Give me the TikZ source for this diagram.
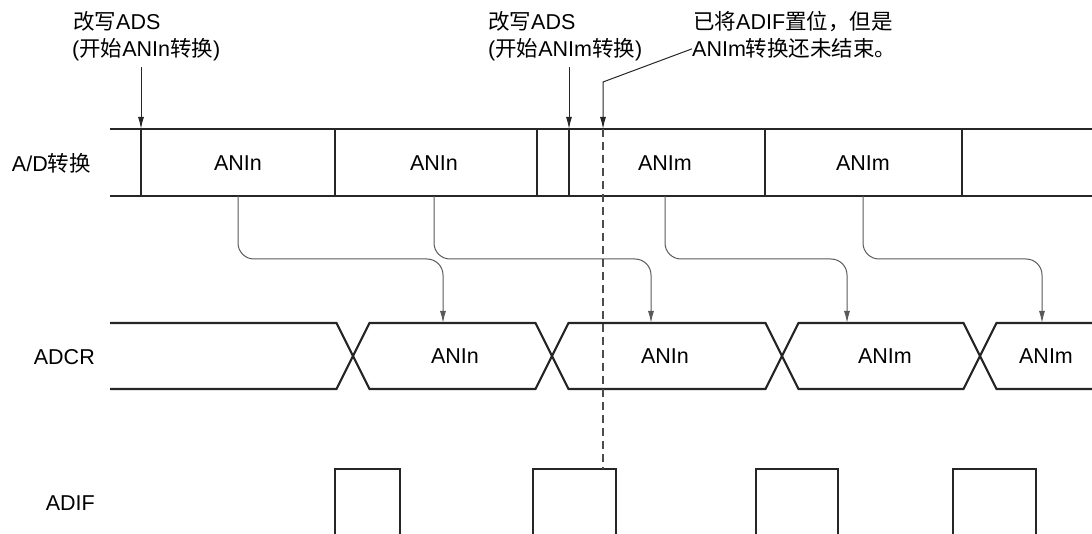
\documentclass[tikz,border=0pt]{standalone}
\usepackage{fontspec}
\setmainfont{Liberation Sans}
\newfontfamily\cjk{Noto Sans CJK SC}
\usetikzlibrary{arrows.meta}

\begin{document}
\begin{tikzpicture}[x=1pt, y=-1pt,
  font=\fontsize{21.5}{27}\selectfont,
  txt/.style={inner sep=0pt},
  lbl/.style={inner sep=0pt, anchor=base west},
  wave/.style={draw=black!85, line width=2.2pt},
  divider/.style={draw=black!85, line width=1.2pt},
  ptr/.style={draw=black!85, line width=1pt, -{Latex[length=12pt,width=6pt]}},
  conn/.style={draw=black!65, line width=1pt, rounded corners=16pt, -{Latex[length=12pt,width=6pt]}},
  dashline/.style={draw=black!70, line width=1.2pt, dash pattern=on 8pt off 5pt}
]
\useasboundingbox (0,0) rectangle (1092,534);

\coordinate (adtop) at (0,129);
\coordinate (adbot) at (0,196);
\coordinate (bend) at (0,259);
\coordinate (iftop) at (0,469);

% A/D row
\draw[wave] (110,129) -- (1092,129);
\draw[wave] (110,196) -- (1092,196);
\foreach \x in {141,335,537,569,765,962}
  \draw[divider] (\x,129) -- (\x,196);
\node[txt, anchor=east] (adlbl) at (91,163) {A/D{\cjk 转换}};
\node[txt] (adA) at (238,163) {ANIn};
\node[txt] (adB) at (434,163) {ANIn};
\node[txt] (adC) at (665,163) {ANIm};
\node[txt] (adD) at (863,163) {ANIm};

% ADCR row
\draw[wave] (110,323) -- (336.5,323) -- (353,356) -- (336.5,389) -- (110,389);
\foreach \a/\b in {353/552, 552/782, 782/980}
  \draw[wave] (\a,356) -- (\a+16.5,323) -- (\b-16.5,323) -- (\b,356) -- (\b-16.5,389) -- (\a+16.5,389) -- cycle;
\draw[wave] (1092,323) -- (996.5,323) -- (980,356) -- (996.5,389) -- (1092,389);
\node[txt, anchor=east] (crlbl) at (95,357) {ADCR};
\node[txt] (crA) at (455,356) {ANIn};
\node[txt] (crB) at (665,356) {ANIn};
\node[txt] (crC) at (885,356) {ANIm};
\node[txt] (crD) at (1046,356) {ANIm};

% ADIF row
\foreach \l/\r in {335/400, 533/616, 756/838, 953/1036}
  \draw[wave] (\l,536) -- (\l,469) -- (\r,469) -- (\r,536);
\node[txt, anchor=east] (iflbl) at (95,503) {ADIF};

% notes
\node[lbl] (adsA) at (73,30) {{\cjk 改写}ADS};
\node[lbl] (adsAb) at (72,57) {({\cjk 开始}ANIn{\cjk 转换})};
\node[lbl] (adsB) at (488,30) {{\cjk 改写}ADS};
\node[lbl] (adsBb) at (488,57) {({\cjk 开始}ANIm{\cjk 转换})};
\node[lbl] (setA) at (693,30) {{\cjk 已将}ADIF{\cjk 置位，但是}};
\node[lbl] (setAb) at (692,57) {ANIm{\cjk 转换还未结束。}};

\coordinate (wrA) at (141,67);
\coordinate (wrB) at (569,67);
\coordinate (knee) at (603,82);
\draw[ptr] (wrA) -- (wrA |- adtop);
\draw[ptr] (wrB) -- (wrB |- adtop);
\draw[ptr] (setAb.west) -- (knee) -- (knee |- adtop);
\draw[dashline] (knee |- adtop) -- (knee |- iftop);

% conversion results into ADCR
\coordinate (tipA) at (443,323);
\coordinate (tipB) at (651,323);
\coordinate (tipC) at (847,323);
\coordinate (tipD) at (1042,323);
\foreach \s/\t in {adA/tipA, adB/tipB, adC/tipC, adD/tipD}
  \draw[conn] (\s |- adbot) -- (\s |- bend) -- (\t |- bend) -- (\t);
\end{tikzpicture}
\end{document}
